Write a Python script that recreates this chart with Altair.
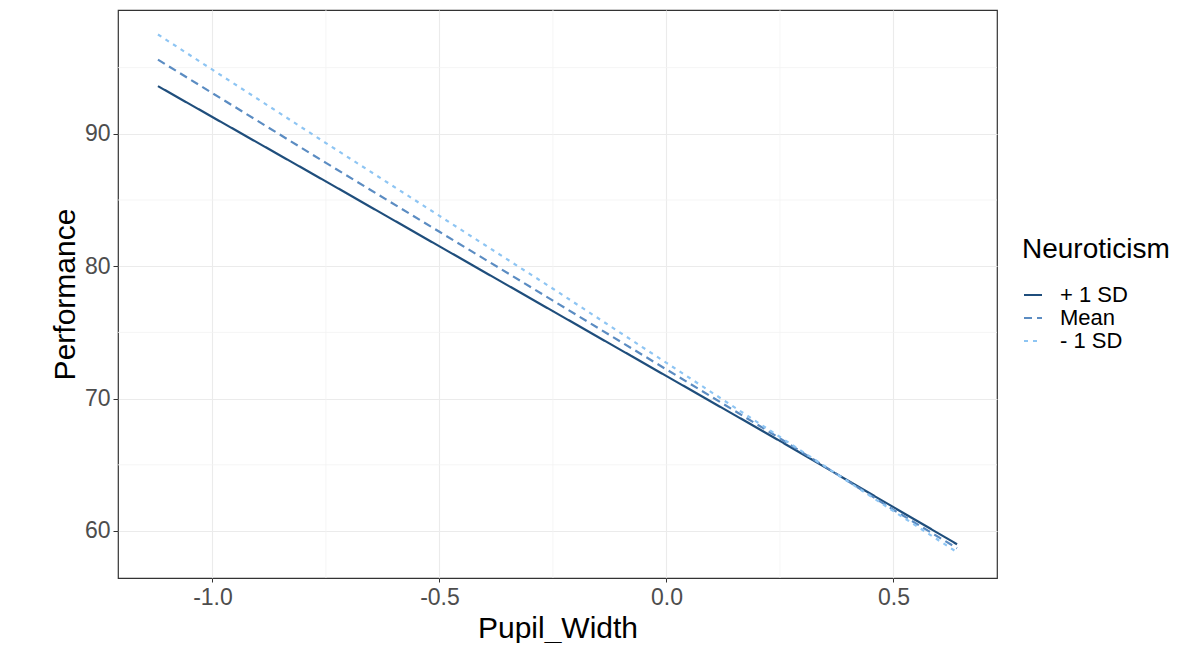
import altair as alt
import pandas as pd

# Data
pupil_width = [-1.12, -0.75, -0.5, -0.25, 0.0, 0.25, 0.5, 0.64]
plus_1sd = [93.6, 86.4, 81.5, 76.6, 71.7, 66.8, 61.8, 59.0]
mean_vals = [95.6, 87.8, 82.6, 77.4, 72.2, 67.0, 61.6, 58.7]
minus_1sd = [97.5, 89.3, 83.8, 78.3, 72.7, 67.1, 61.5, 58.4]
levels = ["+ 1 SD", "Mean", "- 1 SD"]
colors = ["#1F4E7C", "#5B8CC2", "#8EC5F3"]
dashes = [[1, 0], [8, 5], [4, 5]]

x_ticks = [-1.0, -0.5, 0.0, 0.5]
y_ticks = [60, 70, 80, 90]
x_minor = [-0.75, -0.25, 0.25]
y_minor = [65, 75, 85, 95]

rows = []
for lvl, series in zip(levels, [plus_1sd, mean_vals, minus_1sd]):
    for xv, yv in zip(pupil_width, series):
        rows.append({"Pupil_Width": xv, "Performance": yv, "Neuroticism": lvl})
df = pd.DataFrame(rows)

xdom = [-1.208, 0.728]
ydom = [56.45, 99.35]
xscale = alt.Scale(domain=xdom, nice=False, zero=False)
yscale = alt.Scale(domain=ydom, nice=False, zero=False)

font = "Liberation Sans"

minor_x = alt.Chart(pd.DataFrame({"v": x_minor})).mark_rule(
    color="#F2F2F2", strokeWidth=0.8
).encode(x=alt.X("v:Q", scale=xscale))
minor_y = alt.Chart(pd.DataFrame({"v": y_minor})).mark_rule(
    color="#F2F2F2", strokeWidth=0.8
).encode(y=alt.Y("v:Q", scale=yscale))

lines = alt.Chart(df).mark_line(strokeWidth=2.2).encode(
    x=alt.X(
        "Pupil_Width:Q",
        scale=xscale,
        title="Pupil_Width",
        axis=alt.Axis(
            values=x_ticks,
            labelExpr="(datum.value < 0 ? '-' : '') + format(abs(datum.value), '.1f')",
            grid=True, gridColor="#EBEBEB",
            gridWidth=1.1, domain=False, tickColor="#333333", tickSize=4,
            labelFontSize=23, labelColor="#4D4D4D", labelPadding=4,
            titleFontSize=30, titleFontWeight="normal", titleColor="#000000",
            titlePadding=4, labelFont=font, titleFont=font,
        ),
    ),
    y=alt.Y(
        "Performance:Q",
        scale=yscale,
        title="Performance",
        axis=alt.Axis(
            values=y_ticks, grid=True, gridColor="#EBEBEB", gridWidth=1.1,
            domain=False, tickColor="#333333", tickSize=5,
            labelFontSize=23, labelColor="#4D4D4D", labelPadding=3,
            titleFontSize=30, titleFontWeight="normal", titleColor="#000000",
            titlePadding=4, labelFont=font, titleFont=font,
        ),
    ),
    color=alt.Color(
        "Neuroticism:N",
        scale=alt.Scale(domain=levels, range=colors),
        legend=alt.Legend(
            title="Neuroticism", orient="none", legendX=904, legendY=226,
            titleFontSize=28, titleFontWeight="normal", titleColor="#000000",
            titleFont=font, labelFont=font, labelFontSize=22,
            labelColor="#000000", symbolType="stroke", symbolSize=324,
            symbolStrokeWidth=2, rowPadding=1, titlePadding=20,
            labelOffset=16,
        ),
    ),
    strokeDash=alt.StrokeDash(
        "Neuroticism:N",
        scale=alt.Scale(domain=levels, range=dashes),
        legend=None,
    ),
)

chart = alt.layer(minor_x, minor_y, lines).properties(
    width=879,
    height=568,
    autosize=alt.AutoSizeParams(type="none"),
    padding={"left": 110, "top": 2, "right": 180, "bottom": 65},
    background="#FFFFFF",
).configure_view(stroke="#333333", strokeWidth=1.2)

chart.save("out.html", embed_options={"renderer": "svg", "actions": False})
